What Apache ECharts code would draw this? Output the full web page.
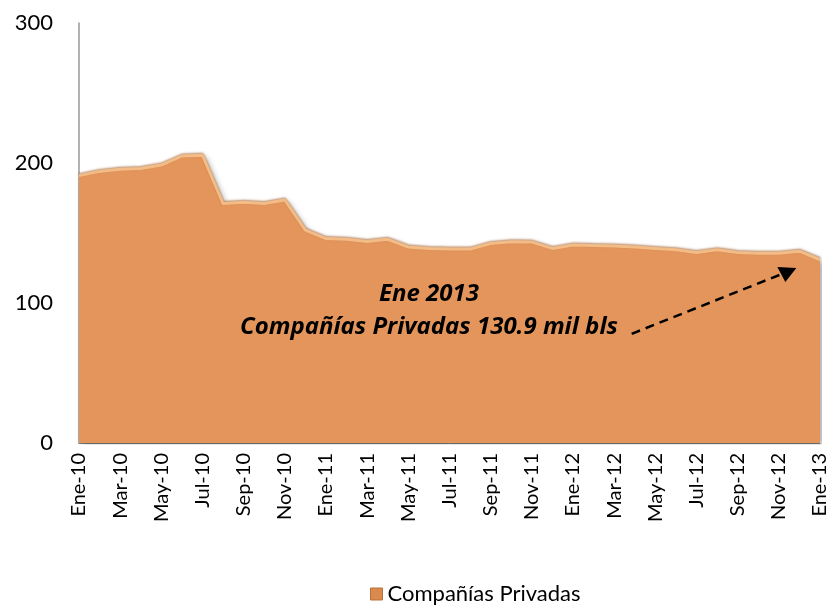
<!DOCTYPE html>
<html>
<head>
<meta charset="utf-8">
<script src="https://cdn.jsdelivr.net/npm/echarts@6/dist/echarts.min.js"></script>
<style>
  html, body { margin: 0; padding: 0; background: #fff; }
  #chart { width: 832px; height: 609px; }
</style>
</head>
<body>
<div id="chart"></div>
<script>
const months = ["Ene", "Feb", "Mar", "Abr", "May", "Jun", "Jul", "Ago", "Sep", "Oct", "Nov", "Dic"];
const years = ["10", "11", "12", "13"];
const categories = [];
years.forEach((y) => months.forEach((m) => categories.push(`${m}-${y}`)));
categories.length = 37; // Ene-10 .. Ene-13

const privadas = [
  191, 194, 195.5, 196, 198.5, 205, 205.5, 171, 172, 171, 173.5, 152,
  146, 145.5, 144, 145.5, 140, 139, 138.5, 138.5, 142.5, 143.8, 143.5, 139,
  141.4, 141, 140.7, 140, 139, 138, 136, 138, 136, 135.5, 135.5, 137,
  130.9
];

const yTicks = { min: 0, max: 300, interval: 100 };
const seriesName = "Compañías Privadas";
const noteLines = ["Ene 2013", "Compañías Privadas 130.9 mil bls"];

const chart = echarts.init(document.getElementById("chart"));
const FONT = "Lato";
const NOTE_FONT = "'Open Sans'";

chart.setOption({
  animation: false,
  textStyle: { fontFamily: FONT },
  grid: { left: 79, right: 12, top: 23, bottom: 166 },
  legend: {
    top: 578,
    left: 365,
    itemWidth: 12,
    itemHeight: 12,
    itemGap: 6,
    icon: "rect",
    itemStyle: { color: "#D98A4C", borderColor: "#B8703A", borderWidth: 1 },
    textStyle: { fontSize: 22, color: "#000", fontFamily: FONT },
    data: [seriesName]
  },
  xAxis: {
    type: "category",
    data: categories,
    boundaryGap: false,
    axisLine: { show: true, lineStyle: { color: "#888" } },
    axisTick: { show: false },
    axisLabel: {
      interval: 1,
      rotate: 90,
      fontSize: 20,
      color: "#000",
      margin: 10
    }
  },
  yAxis: {
    type: "value",
    min: yTicks.min,
    max: yTicks.max,
    interval: yTicks.interval,
    axisLine: { show: true, lineStyle: { color: "#999", width: 1.5 } },
    axisTick: { show: false },
    splitLine: { show: false },
    axisLabel: { fontSize: 22, color: "#000", margin: 26 }
  },
  series: [
    {
      name: seriesName,
      type: "line",
      data: privadas,
      symbol: "none",
      lineStyle: { color: "#F3BC86", width: 3, shadowColor: "rgba(150,80,30,0.6)", shadowBlur: 2, shadowOffsetY: -1 },
      itemStyle: { color: "#E3965C" },
      areaStyle: {
        color: "#E3955B",
        opacity: 1,
        shadowColor: "rgba(0,0,0,0.35)",
        shadowBlur: 6,
        shadowOffsetX: 3,
        shadowOffsetY: 2
      }
    }
  ]
});

// pixel position for a fractional category index and a value
function toPx(idx, val) {
  const i0 = Math.floor(idx);
  const a = chart.convertToPixel({ xAxisIndex: 0, yAxisIndex: 0 }, [i0, val]);
  const b = chart.convertToPixel({ xAxisIndex: 0, yAxisIndex: 0 }, [i0 + 1, val]);
  const t = idx - i0;
  return [a[0] + (b[0] - a[0]) * t, a[1]];
}

const end = toPx(34.85, 125);
const start = toPx(26.85, 78);
const textPos = toPx(17.0, 115);

chart.setOption({
  graphic: {
    elements: [
      {
        type: "text",
        z: 100,
        x: textPos[0],
        y: textPos[1],
        style: {
          text: noteLines[0],
          font: `italic bold 24px ${NOTE_FONT}`,
          fill: "#000",
          align: "center"
        }
      },
      {
        type: "text",
        z: 100,
        x: textPos[0],
        y: textPos[1] + 33,
        style: {
          text: noteLines[1],
          font: `italic bold 24px ${NOTE_FONT}`,
          fill: "#000",
          align: "center"
        }
      },
      {
        type: "line",
        z: 100,
        shape: { x1: start[0], y1: start[1], x2: end[0] - 12, y2: end[1] + 5 },
        style: { stroke: "#000", lineWidth: 2.5, lineDash: [9, 6] }
      },
      {
        type: "polygon",
        z: 100,
        shape: {
          points: [
            [end[0], end[1]],
            [end[0] - 19, end[1] - 1],
            [end[0] - 11, end[1] + 14]
          ]
        },
        style: { fill: "#000" }
      }
    ]
  }
});
</script>
</body>
</html>
